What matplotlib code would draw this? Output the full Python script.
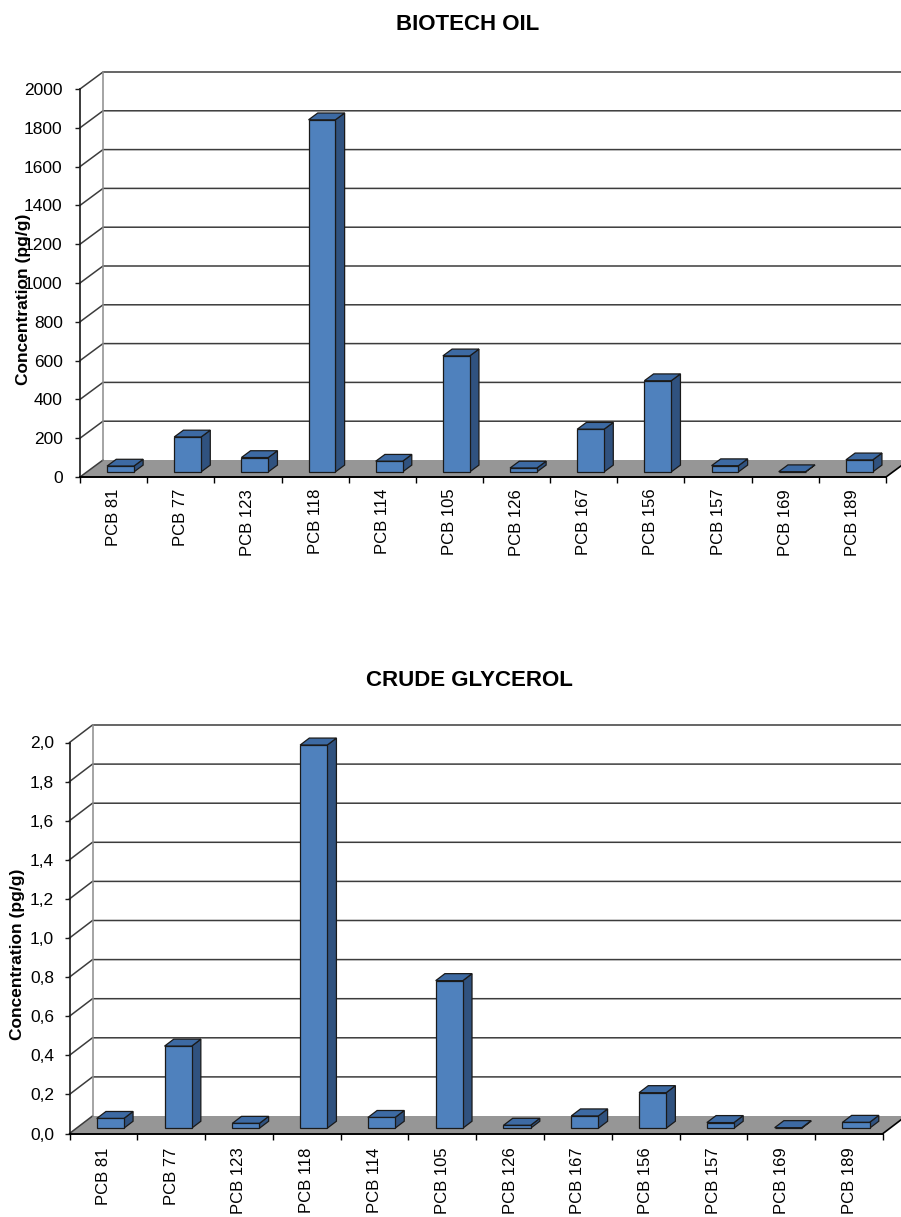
import matplotlib.pyplot as plt
from matplotlib.patches import Polygon

plt.rcParams['font.family'] = ['Liberation Sans', 'DejaVu Sans']

categories = ['PCB 81', 'PCB 77', 'PCB 123', 'PCB 118', 'PCB 114', 'PCB 105',
              'PCB 126', 'PCB 167', 'PCB 156', 'PCB 157', 'PCB 169', 'PCB 189']

biotech_oil = [30, 180, 74, 1815, 55, 598, 20, 220, 470, 32, 1, 62]
crude_glycerol = [0.05, 0.42, 0.025, 1.96, 0.055, 0.755, 0.015, 0.063, 0.182, 0.029, 0.003, 0.03]

biotech_ticks = list(range(0, 2001, 200))
biotech_ticklabels = [str(t) for t in biotech_ticks]
glycerol_ticks = [i * 0.2 for i in range(11)]
glycerol_ticklabels = ['%.1f' % t for t in glycerol_ticks]
glycerol_ticklabels = [s.replace('.', ',') for s in glycerol_ticklabels]

W, H = 901, 1217
DPI = 100

FRONT = '#4F81BD'
TOP = '#3D6AA3'
SIDE = '#30527F'
FLOOR = '#969696'
GRID = '#3C3C3C'


def draw_chart(fig, box, values, ticks, ticklabels, title, title_xy, ylab_xy,
               depth_px, ypad, xpad):
    left, right, bottom, top = box
    ax = fig.add_axes([left / W, 1 - bottom / H, (right - left) / W, (bottom - top) / H])
    n = len(values)
    ymax = ticks[-1]
    ax.set_xlim(0, n)
    ax.set_ylim(0, ymax)
    ax.patch.set_visible(False)

    # depth offsets (front plane -> back wall) in data units
    DX = depth_px[0] / (right - left) * n
    DY = depth_px[1] / (bottom - top) * ymax

    def p(x, y, d):
        return (x + d * DX, y + d * DY)

    # floor
    floor = Polygon([p(0, 0, 0), p(n, 0, 0), p(n, 0, 1), p(0, 0, 1)],
                    closed=True, fc=FLOOR, ec='none', zorder=0.5, clip_on=False)
    ax.add_patch(floor)
    x0, y0 = p(n, 0, 0)
    x1, y1 = p(n, 0, 1)
    ax.plot([x0, x1], [y0, y1], color='black', lw=1.2, clip_on=False, zorder=2)
    x0, y0 = p(0, 0, 0)
    x1, y1 = p(0, 0, 1)
    ax.plot([x0, x1], [y0, y1], color=GRID, lw=1.1, clip_on=False, zorder=1)

    # walls: gridlines on side and back
    for v in ticks[1:]:
        a = p(0, v, 0)
        b = p(0, v, 1)
        c = p(n + 1, v, 1)
        ax.plot([a[0], b[0], c[0]], [a[1], b[1], c[1]], color=GRID, lw=1.1,
                clip_on=False, zorder=1)
    a = p(0, 0, 1)
    b = p(0, ymax, 1)
    ax.plot([a[0], b[0]], [a[1], b[1]], color='#8C8C8C', lw=1.1, clip_on=False, zorder=1)

    # 3D bars
    bw = 0.4
    d0, d1 = 0.3, 0.7
    for i, v in enumerate(values):
        xa = i + 0.5 - bw / 2
        xb = i + 0.5 + bw / 2
        side = [p(xb, 0, d0), p(xb, 0, d1), p(xb, v, d1), p(xb, v, d0)]
        topf = [p(xa, v, d0), p(xb, v, d0), p(xb, v, d1), p(xa, v, d1)]
        front = [p(xa, 0, d0), p(xb, 0, d0), p(xb, v, d0), p(xa, v, d0)]
        for pts, col in ((side, SIDE), (topf, TOP), (front, FRONT)):
            ax.add_patch(Polygon(pts, closed=True, fc=col, ec='#1A1A1A', lw=0.9,
                                 joinstyle='miter', zorder=3, clip_on=False))

    # axes and ticks
    for s in ('top', 'right'):
        ax.spines[s].set_visible(False)
    ax.spines['left'].set_color('#1A1A1A')
    ax.spines['left'].set_linewidth(1.2)
    ax.spines['bottom'].set_color('black')
    ax.spines['bottom'].set_linewidth(1.4)
    ax.spines['left'].set_zorder(2)
    ax.spines['bottom'].set_zorder(2)

    ax.set_yticks(ticks)
    ax.set_yticklabels(ticklabels)
    ax.tick_params(axis='y', direction='out', length=3.5, width=1, color='#1A1A1A',
                   labelsize=12.5, pad=ypad)

    ax.set_xticks(range(n + 1))
    ax.set_xticklabels([])
    ax.set_xticks([i + 0.5 for i in range(n)], minor=True)
    ax.set_xticklabels(categories, minor=True, rotation=90, fontsize=12)
    ax.tick_params(axis='x', which='major', direction='out', length=4.5, width=1,
                   color='black')
    ax.tick_params(axis='x', which='minor', length=0, pad=xpad)

    ax.set_ylabel('Concentration (pg/g)', fontsize=12.5, fontweight='bold')
    ax.yaxis.set_label_coords((ylab_xy[0] - left) / (right - left),
                              (bottom - ylab_xy[1]) / (bottom - top))

    fig.text(title_xy[0] / W, 1 - title_xy[1] / H, title, ha='center', va='center',
             fontsize=16, fontweight='bold')
    return ax


fig = plt.figure(figsize=(W / DPI, H / DPI), dpi=DPI)
fig.patch.set_facecolor('white')

draw_chart(fig, (80, 886, 477, 89), biotech_oil, biotech_ticks, biotech_ticklabels,
           'BIOTECH OIL', (468, 25), (31, 299), (23, 17), 9, 8.5)
draw_chart(fig, (69.5, 883, 1133.5, 742.5), crude_glycerol, glycerol_ticks,
           glycerol_ticklabels, 'CRUDE GLYCEROL', (469, 681), (25, 954), (23, 17.5),
           7.5, 10)

fig.savefig('out.png', dpi=DPI)
